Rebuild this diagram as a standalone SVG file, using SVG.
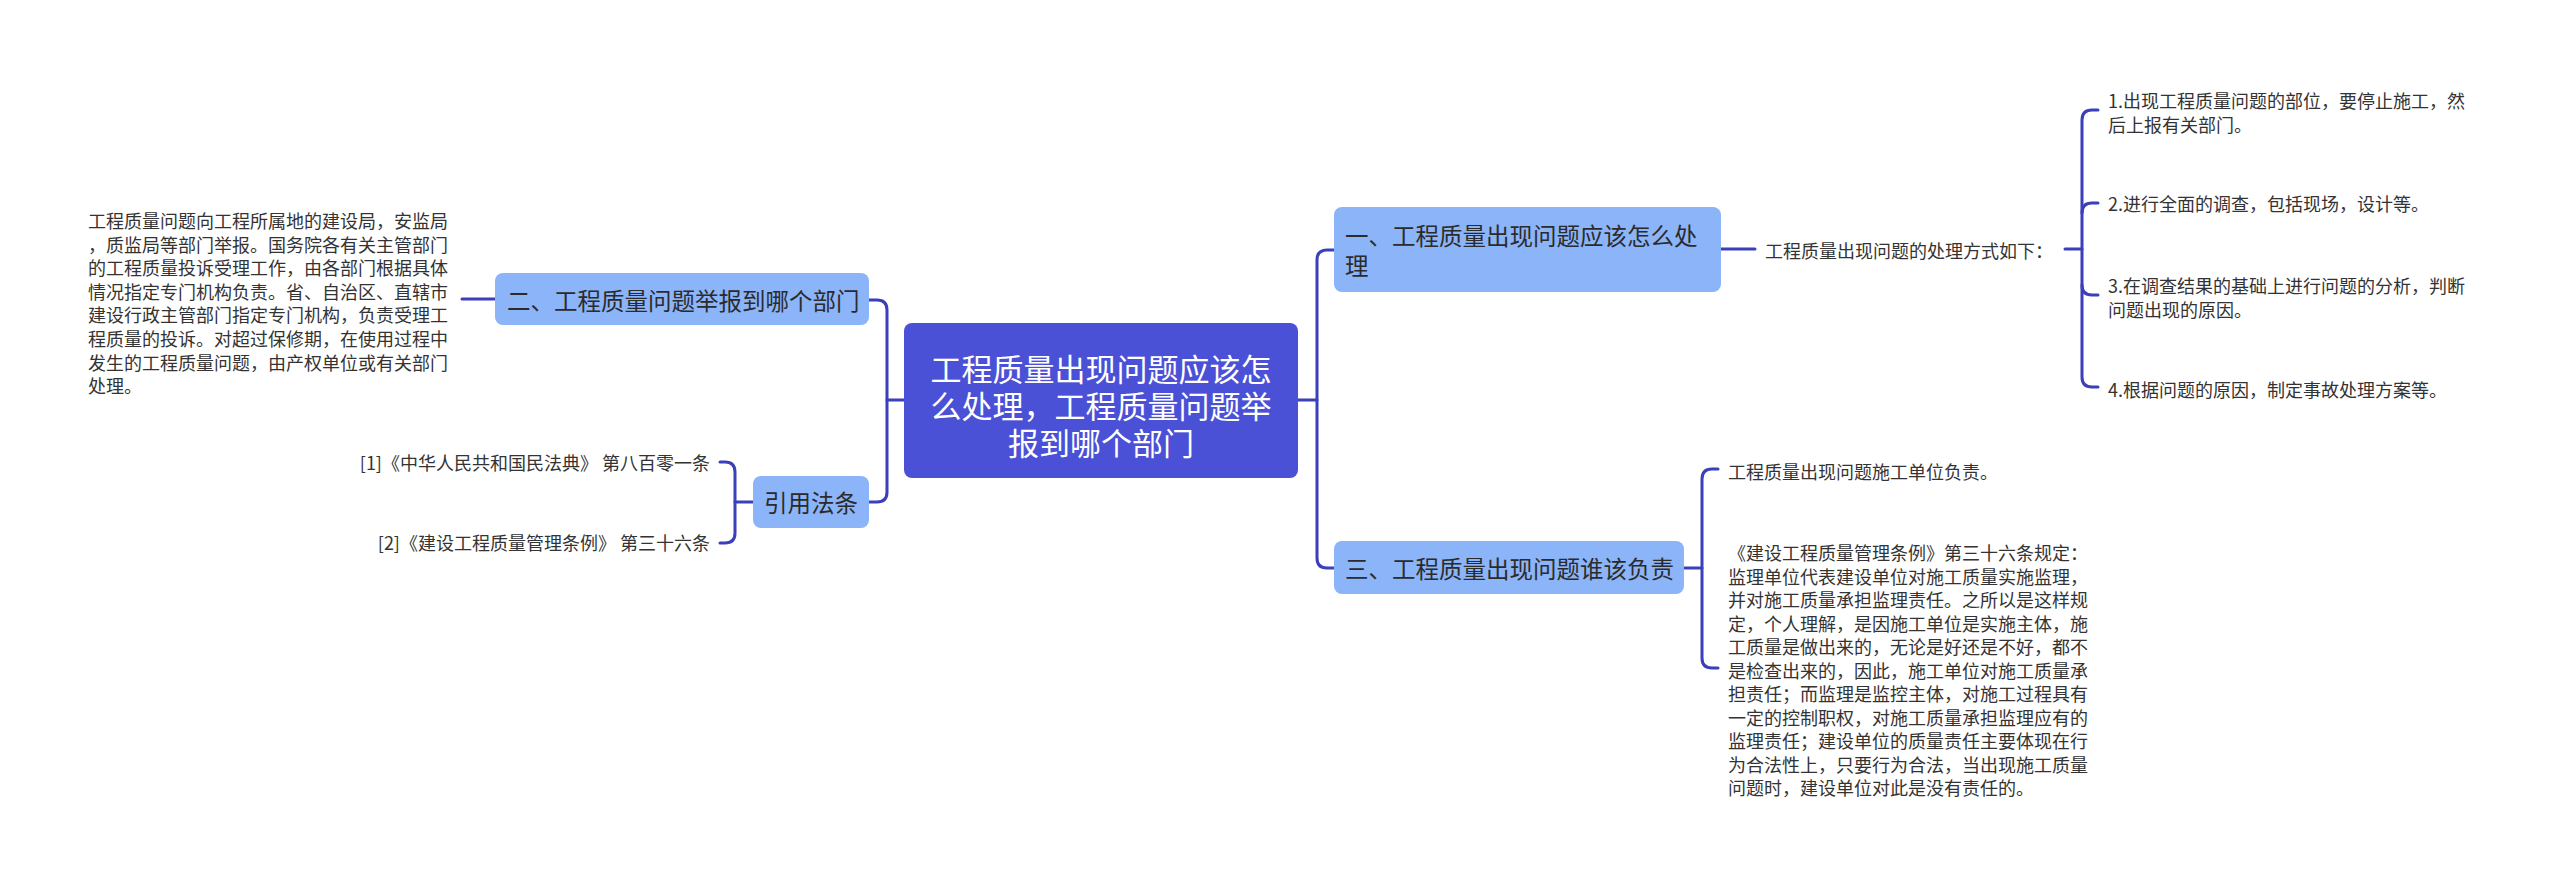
<svg xmlns="http://www.w3.org/2000/svg" width="2560" height="883" viewBox="0 0 2560 883">
<style>
.bg{fill:#ffffff}
.root rect{fill:#4B51D6}
.sub rect{fill:#8BB4F9}
.root text{fill:#ffffff;font-size:31px;text-anchor:middle}
.sub text{fill:#2b2b2b;font-size:23.5px}
text{font-family:"Noto Sans CJK SC","Microsoft YaHei",sans-serif;dominant-baseline:central}
.leaf text{fill:#333333;font-size:18px}
.edges path{fill:none;stroke:#3A3FBA;stroke-width:3;stroke-linecap:round}
</style>
<rect class="bg" x="0" y="0" width="2560" height="883"/>
<g class="edges" id="connectors">
<path d="M904,400 H887"/>
<path d="M869,300 H877 Q887,300 887,310 V492 Q887,502 877,502 H869"/>
<path d="M495,299 H462"/>
<path d="M753,502 H735"/>
<path d="M720,462 H725 Q735,462 735,472 V533 Q735,543 725,543 H720"/>
<path d="M1298,400 H1317"/>
<path d="M1334,250 H1327 Q1317,250 1317,260 V558 Q1317,568 1327,568 H1334"/>
<path d="M1721,249 H1755"/>
<path d="M2065,249 H2082"/>
<path d="M2098,110 H2092 Q2082,110 2082,120 V377 Q2082,387 2092,387 H2098"/>
<path d="M2082,213 Q2082,203 2092,203 H2098"/>
<path d="M2082,285 Q2082,295 2092,295 H2098"/>
<path d="M1684,568 H1702"/>
<path d="M1718,469 H1712 Q1702,469 1702,479 V658 Q1702,668 1712,668 H1718"/>
</g>
<g id="root" class="root">
<rect x="904" y="323" width="394" height="155" rx="8"/>
<text x="1101" y="367">工程质量出现问题应该怎</text>
<text x="1101" y="404">么处理，工程质量问题举</text>
<text x="1101" y="441">报到哪个部门</text>
</g>
<g id="n2" class="sub">
<rect x="495" y="273" width="374" height="52" rx="8"/>
<text x="507" y="300">二、工程质量问题举报到哪个部门</text>
</g>
<g id="n2-text" class="leaf">
<text x="88" y="220">工程质量问题向工程所属地的建设局，安监局</text>
<text x="88" y="243.6">，质监局等部门举报。国务院各有关主管部门</text>
<text x="88" y="267.2">的工程质量投诉受理工作，由各部门根据具体</text>
<text x="88" y="290.8">情况指定专门机构负责。省、自治区、直辖市</text>
<text x="88" y="314.4">建设行政主管部门指定专门机构，负责受理工</text>
<text x="88" y="338">程质量的投诉。对超过保修期，在使用过程中</text>
<text x="88" y="361.6">发生的工程质量问题，由产权单位或有关部门</text>
<text x="88" y="385.2">处理。</text>
</g>
<g id="law" class="sub">
<rect x="753" y="476" width="116" height="52" rx="8"/>
<text x="811" y="502" text-anchor="middle">引用法条</text>
</g>
<g id="law1" class="leaf"><text x="710" y="462" text-anchor="end">[1]《中华人民共和国民法典》 第八百零一条</text></g>
<g id="law2" class="leaf"><text x="710" y="542" text-anchor="end">[2]《建设工程质量管理条例》 第三十六条</text></g>
<g id="n1" class="sub">
<rect x="1334" y="207" width="387" height="85" rx="8"/>
<text x="1345" y="235">一、工程质量出现问题应该怎么处</text>
<text x="1345" y="265">理</text>
</g>
<g id="n1-a" class="leaf"><text x="1765" y="250">工程质量出现问题的处理方式如下：</text></g>
<g id="n1-a1" class="leaf">
<text x="2108" y="100">1.出现工程质量问题的部位，要停止施工，然</text>
<text x="2108" y="124">后上报有关部门。</text>
</g>
<g id="n1-a2" class="leaf"><text x="2108" y="203">2.进行全面的调查，包括现场，设计等。</text></g>
<g id="n1-a3" class="leaf">
<text x="2108" y="285">3.在调查结果的基础上进行问题的分析，判断</text>
<text x="2108" y="309">问题出现的原因。</text>
</g>
<g id="n1-a4" class="leaf"><text x="2108" y="389">4.根据问题的原因，制定事故处理方案等。</text></g>
<g id="n3" class="sub">
<rect x="1334" y="541" width="350" height="53" rx="8"/>
<text x="1345" y="568">三、工程质量出现问题谁该负责</text>
</g>
<g id="n3-a" class="leaf"><text x="1728" y="471">工程质量出现问题施工单位负责。</text></g>
<g id="n3-b" class="leaf">
<text x="1728" y="552">《建设工程质量管理条例》第三十六条规定：</text>
<text x="1728" y="575.5">监理单位代表建设单位对施工质量实施监理，</text>
<text x="1728" y="599">并对施工质量承担监理责任。之所以是这样规</text>
<text x="1728" y="622.5">定，个人理解，是因施工单位是实施主体，施</text>
<text x="1728" y="646">工质量是做出来的，无论是好还是不好，都不</text>
<text x="1728" y="669.5">是检查出来的，因此，施工单位对施工质量承</text>
<text x="1728" y="693">担责任；而监理是监控主体，对施工过程具有</text>
<text x="1728" y="716.5">一定的控制职权，对施工质量承担监理应有的</text>
<text x="1728" y="740">监理责任；建设单位的质量责任主要体现在行</text>
<text x="1728" y="763.5">为合法性上，只要行为合法，当出现施工质量</text>
<text x="1728" y="787">问题时，建设单位对此是没有责任的。</text>
</g>
</svg>
